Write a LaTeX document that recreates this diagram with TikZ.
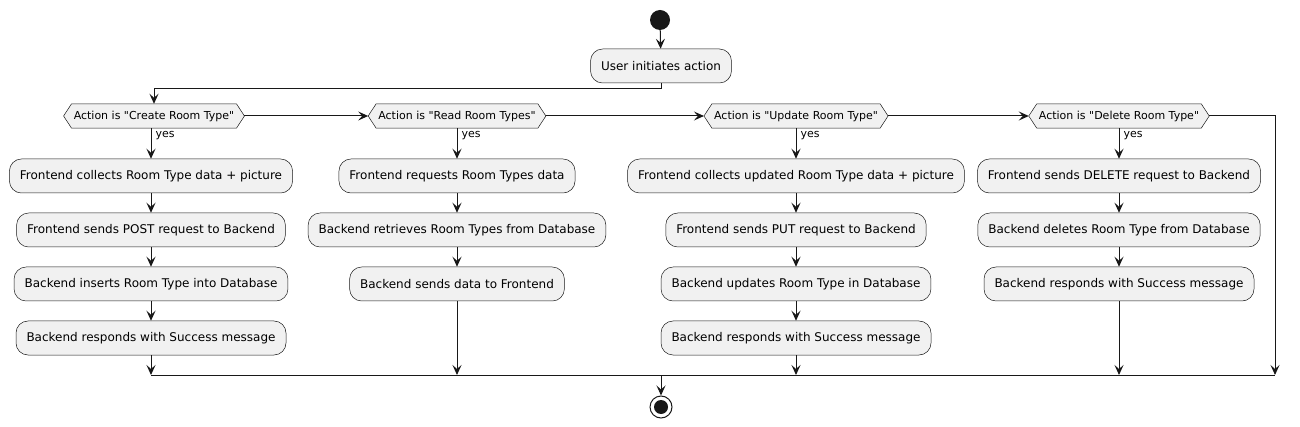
\documentclass[tikz,border=0pt]{standalone}
\usepackage{fontspec}
\setmainfont{DejaVu Sans}[Ligatures=TeXOff]
\usetikzlibrary{arrows.meta,backgrounds}
\definecolor{boxfill}{HTML}{F1F1F1}
\definecolor{ln}{HTML}{181818}
\tikzset{
 act/.style={draw=ln, line width=0.5pt, fill=boxfill, rounded corners=12pt, minimum height=34pt, inner xsep=10.5pt, font=\fontsize{12}{14}\selectfont},
 dec/.style={inner xsep=2pt, minimum height=24pt, font=\fontsize{11}{13}\selectfont},
 hexa/.style={draw=ln, line width=0.5pt, fill=boxfill},
 conn/.style={draw=ln, line width=1pt, -{Stealth[length=10pt,width=9pt,inset=4pt]}},
 plain/.style={draw=ln, line width=1pt},
 lbl/.style={font=\fontsize{11}{13}\selectfont, anchor=north west, inner sep=1pt}
}
\begin{document}
\begin{tikzpicture}[x=1pt,y=-1pt]
\useasboundingbox (0,0) rectangle (1300,427);
\node[circle, fill=ln, minimum size=20pt, inner sep=0pt] (start) at (660,20) {};
\node[act] (user) at (661,66) {User initiates action};

% decisions
\node[dec] (d1) at (154,116) {Action is "Create Room Type"};
\node[dec] (d2) at (457,116) {Action is "Read Room Types"};
\node[dec] (d3) at (796,116) {Action is "Update Room Type"};
\node[dec] (d4) at (1119,116) {Action is "Delete Room Type"};
\foreach \d in {d1,d2,d3,d4}{
  \coordinate (\d l) at ([xshift=-8pt]\d.west);
  \coordinate (\d r) at ([xshift=8pt]\d.east);
}
\begin{scope}[on background layer]
\foreach \d in {d1,d2,d3,d4}{
  \draw[hexa] (\d l) -- (\d.north west) -- (\d.north east) -- (\d r) -- (\d.south east) -- (\d.south west) -- cycle;
}
\end{scope}

% column 1
\node[act] (a1) at (151,176) {Frontend collects Room Type data + picture};
\node[act] (a2) at (151,230) {Frontend sends POST request to Backend};
\node[act] (a3) at (151,284) {Backend inserts Room Type into Database};
\node[act] (a4) at (151,338) {Backend responds with Success message};
% column 2
\node[act] (b1) at (457,176) {Frontend requests Room Types data};
\node[act] (b2) at (457,230) {Backend retrieves Room Types from Database};
\node[act] (b3) at (457,284) {Backend sends data to Frontend};
% column 3
\node[act] (c1) at (796,176) {Frontend collects updated Room Type data + picture};
\node[act] (c2) at (796,230) {Frontend sends PUT request to Backend};
\node[act] (c3) at (796,284) {Backend updates Room Type in Database};
\node[act] (c4) at (796,338) {Backend responds with Success message};
% column 4
\node[act] (e1) at (1119,176) {Frontend sends DELETE request to Backend};
\node[act] (e2) at (1119,230) {Backend deletes Room Type from Database};
\node[act] (e3) at (1119,284) {Backend responds with Success message};

% merge coordinates
\coordinate (m1) at (151,375);
\coordinate (m2) at (457,375);
\coordinate (mc) at (661,375);
\coordinate (m3) at (796,375);
\coordinate (m4) at (1119,375);
\coordinate (m5) at (1275,375);

% end
\node[circle, draw=ln, line width=1pt, minimum size=22pt, inner sep=0pt] (stop) at (661,407) {};
\node[circle, fill=ln, minimum size=14pt, inner sep=0pt] (stopin) at (661,407) {};

% connectors
\draw[conn] (start) -- (user);
\draw[conn] (user.south) -- ++(0,5) -| (d1.north);
\draw[conn] (d1r) -- (d2l);
\draw[conn] (d2r) -- (d3l);
\draw[conn] (d3r) -- (d4l);
\draw[conn] (d4r) -| (m5);

\draw[conn] (d1.south -| a1) -- node[lbl, pos=0, xshift=3pt, yshift=-2pt]{yes} (a1.north);
\draw[conn] (d2.south) -- node[lbl, pos=0, xshift=3pt, yshift=-2pt]{yes} (b1.north);
\draw[conn] (d3.south) -- node[lbl, pos=0, xshift=3pt, yshift=-2pt]{yes} (c1.north);
\draw[conn] (d4.south) -- node[lbl, pos=0, xshift=3pt, yshift=-2pt]{yes} (e1.north);

\draw[conn] (a1) -- (a2);
\draw[conn] (a2) -- (a3);
\draw[conn] (a3) -- (a4);
\draw[conn] (a4) -- (m1);
\draw[conn] (b1) -- (b2);
\draw[conn] (b2) -- (b3);
\draw[conn] (b3) -- (m2);
\draw[conn] (c1) -- (c2);
\draw[conn] (c2) -- (c3);
\draw[conn] (c3) -- (c4);
\draw[conn] (c4) -- (m3);
\draw[conn] (e1) -- (e2);
\draw[conn] (e2) -- (e3);
\draw[conn] (e3) -- (m4);

\draw[plain] (m1) -- (m5);
\draw[conn] (mc) -- (stop);
\end{tikzpicture}
\end{document}
